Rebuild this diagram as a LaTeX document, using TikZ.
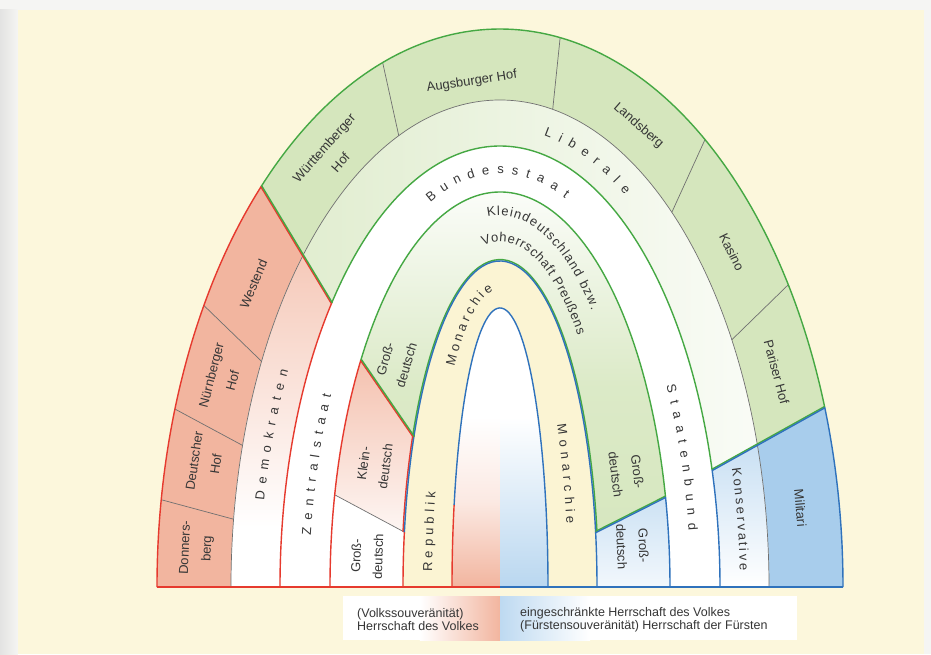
\documentclass[tikz,border=0pt]{standalone}
\usepackage{fontspec}
\setmainfont{Liberation Sans}
\usepackage{tikz}
\usetikzlibrary{calc}
\definecolor{paper}{HTML}{FCF7DC}
\definecolor{sheetedge}{HTML}{F5F5F3}
\definecolor{edgered}{HTML}{E63A2E}
\definecolor{edgegreen}{HTML}{45A843}
\definecolor{edgeblue}{HTML}{2F72BC}
\definecolor{fillred}{HTML}{F2B59F}
\definecolor{fillgreen}{HTML}{D5E6BD}
\definecolor{fillblue}{HTML}{A8CDEC}
\definecolor{fillcream}{HTML}{FBF4D3}
\definecolor{segline}{HTML}{707070}
\definecolor{labeltext}{HTML}{363636}
\newsavebox\charbox
\newcommand\lblfont{\fontsize{13}{22}\selectfont}
\newcommand\arcfont{\fontsize{13}{15}\selectfont}
\newcommand\legfont{\fontsize{12.5}{13}\selectfont}
\tikzset{
red edge/.style={draw=edgered, line width=1.4pt},
green edge/.style={draw=edgegreen, line width=1.4pt},
blue edge/.style={draw=edgeblue, line width=1.4pt},
seg line/.style={draw=segline, line width=0.7pt},
ring label/.style={font=\lblfont, text=labeltext, align=center, inner sep=0pt},
arc letter/.style={font=\arcfont, text=labeltext, anchor=base, inner sep=0pt},
legend text/.style={font=\legfont, text=labeltext, align=left, inner sep=0pt, anchor=west}
}
% half widths and heights of the arches
\def\aOut{343}\def\hOut{558}
\def\aLib{269}\def\hLib{487}
\def\aBund{220}\def\hBund{441}
\def\aDeu{170}\def\hDeu{395}
\def\aMon{97}\def\hMon{326}
\def\aCore{48}\def\hCore{279}
% closed band between two arches
\newcommand\halfring[4]{(-#1,0) arc[start angle=180,end angle=0,x radius=#1,y radius=#2] -- (#3,0) arc[start angle=0,end angle=180,x radius=#3,y radius=#4] -- cycle}
% piece of an arch between two angles
\newcommand\edgearc[5]{\draw[#1] ({#2*cos(#4)},{#3*sin(#4)}) arc[start angle=#4,end angle=#5,x radius=#2,y radius=#3];}
% one label in a band, turned along the arch
\newcommand\ringnode[5]{%
  \pgfmathsetmacro\labx{#2*cos(#4)}%
  \pgfmathsetmacro\laby{#3*sin(#4)}%
  \pgfmathsetmacro\labrot{atan2(-#3*cos(#4),#2*sin(#4))}%
  \node[ring label,rotate=\labrot] (#1) at (\labx,\laby) {#5};}
% widths of the letters, measured before the picture
\newcommand\measureletters[1]{%
  \foreach \c in {#1}{%
    \sbox\charbox{\arcfont\c}%
    \expandafter\xdef\csname cw@\detokenize\expandafter{\c}\endcsname{\the\wd\charbox}}}
% letters set one by one along an arch (name, a, h, start angle, tracking, letters)
\newcommand\arctext[6]{%
  \xdef\tcur{#4}%
  \foreach \ch [count=\idx] in {#6}{%
    \edef\chraw{\csname cw@\detokenize\expandafter{\ch}\endcsname}%
    \pgfmathsetmacro\chw{\chraw}%
    \pgfmathsetmacro\spd{100*sqrt((#2/100*sin(\tcur))^2+(#3/100*cos(\tcur))^2)}%
    \pgfmathsetmacro\tmid{\tcur-0.5*\chw*57.2958/\spd}%
    \pgfmathsetmacro\labx{#2*cos(\tmid)}%
    \pgfmathsetmacro\laby{#3*sin(\tmid)}%
    \pgfmathsetmacro\labrot{atan2(-#3*cos(\tmid),#2*sin(\tmid))}%
    \node[arc letter,rotate=\labrot] (#1-\idx) at (\labx,\laby) {\ch};
    \pgfmathsetmacro\tnext{\tcur-(\chw+#5)*57.2958/\spd}%
    \xdef\tcur{\tnext}%
  }}
\begin{document}
\measureletters{D,e,m,o,k,r,a,t,n,L,i,b,l,K,s,v,Z,B,u,d,S,R,p,M,c,h,V,f,P,ß,z,w,.,\ }%
\begin{tikzpicture}[x=1pt,y=1pt]
\useasboundingbox (-500,-67) rectangle (431,587);
% sheet
\fill[paper] (-500,-67) rectangle (431,587);
\fill[sheetedge] (-500,577) rectangle (431,587);
\shade[left color=sheetedge!85!gray, right color=sheetedge] (-500,-67) rectangle (-482,577);
\fill[sheetedge] (424,-67) rectangle (431,577);

% end points of the dividing lines
\coordinate (westTop) at ({\aOut*cos(134.1)},{\hOut*sin(134.1)});
\coordinate (westLow) at ({\aBund*cos(139.9)},{\hBund*sin(139.9)});
\coordinate (konsTop) at ({\aOut*cos(18.8)},{\hOut*sin(18.8)});
\coordinate (konsLow) at ({\aBund*cos(15.4)},{\hBund*sin(15.4)});
\coordinate (kleinTop) at ({\aDeu*cos(144.9)},{\hDeu*sin(144.9)});
\coordinate (kleinLow) at ({\aMon*cos(152.6)},{\hMon*sin(152.6)});
\coordinate (grossTop) at ({\aDeu*cos(166.5)},{\hDeu*sin(166.5)});
\coordinate (grossLow) at ({\aMon*cos(170.3)},{\hMon*sin(170.3)});
\coordinate (rgTop) at ({\aDeu*cos(13.2)},{\hDeu*sin(13.2)});
\coordinate (rgLow) at ({\aMon*cos(9.7)},{\hMon*sin(9.7)});

% outer band: clubs
\begin{scope}
\clip \halfring{\aOut}{\hOut}{\aLib}{\hLib};
\fill[fillgreen] (-350,0) rectangle (350,560);
\fill[fillred] ($(westLow)!3!(westTop)$) -- ($(westTop)!2!(westLow)$) |- (-520,-20) -- (-520,640) -- cycle;
\fill[fillblue] ($(konsLow)!3!(konsTop)$) -- ($(konsTop)!2!(konsLow)$) |- (560,-20) -- (560,320) -- cycle;
\end{scope}
% second band: parties
\begin{scope}
\clip \halfring{\aLib}{\hLib}{\aBund}{\hBund};
\shade[left color=fillgreen!80, right color=fillgreen!12] (-270,0) rectangle (270,490);
\begin{scope}
\clip ($(westLow)!3!(westTop)$) -- ($(westTop)!2!(westLow)$) |- (-520,-20) -- (-520,640) -- cycle;
\fill[white] (-300,-20) rectangle (-100,360);
\shade[top color=fillred!75, bottom color=white] (-280,60) rectangle (-140,340);
\end{scope}
\begin{scope}
\clip ($(konsLow)!3!(konsTop)$) -- ($(konsTop)!2!(konsLow)$) |- (560,-20) -- (560,320) -- cycle;
\shade[top color=fillblue!70, bottom color=white] (180,0) rectangle (290,160);
\end{scope}
\end{scope}
% third band
\fill[white] \halfring{\aBund}{\hBund}{\aDeu}{\hDeu};
% fourth band
\begin{scope}
\clip \halfring{\aDeu}{\hDeu}{\aMon}{\hMon};
\shade[bottom color=fillgreen, top color=fillgreen!8, middle color=fillgreen!85] (-180,0) rectangle (180,400);
\begin{scope}
\clip ($(kleinLow)!3!(kleinTop)$) -- ($(kleinTop)!2!(kleinLow)$) |- (-300,-20) -- (-300,400) -- cycle;
\shade[top color=fillred!85, bottom color=fillred!10] (-180,50) rectangle (-80,230);
\end{scope}
\begin{scope}
\clip ($(grossLow)!2!(grossTop)$) -- ($(grossTop)!1.5!(grossLow)$) |- (-300,-20) -- (-300,130) -- cycle;
\fill[white] (-200,-20) rectangle (-50,140);
\end{scope}
\begin{scope}
\clip ($(rgLow)!2!(rgTop)$) -- ($(rgTop)!1.5!(rgLow)$) |- (300,-20) -- (300,130) -- cycle;
\shade[top color=fillblue!75, bottom color=fillblue!15] (80,0) rectangle (180,125);
\end{scope}
\end{scope}
% fifth band
\fill[fillcream] \halfring{\aMon}{\hMon}{\aCore}{\hCore};
% core
\begin{scope}
\clip (-\aCore,0) arc[start angle=180,end angle=0,x radius=\aCore,y radius=\hCore] -- cycle;
\fill[white] (-50,0) rectangle (50,280);
\shade[top color=fillred!30, bottom color=fillred] (-50,0) rectangle (0,85);
\shade[top color=white, bottom color=fillred!30] (-50,85) rectangle (0,170);
\shade[top color=white, bottom color=fillblue!80] (0,0) rectangle (50,170);
\end{scope}

% thin lines
\draw[seg line] (-\aLib,0) arc[start angle=180,end angle=0,x radius=\aLib,y radius=\hLib];
\foreach \tout/\tin in {171/172,161.4/163.1,149.7/152.4,110/112.1,79.9/78.7,53.3/50.3,32.8/30.5}
  \draw[seg line] ({\aOut*cos(\tout)},{\hOut*sin(\tout)}) -- ({\aLib*cos(\tin)},{\hLib*sin(\tin)});
\draw[seg line] (grossTop) -- (grossLow);

% coloured arches
\edgearc{red edge}{\aOut}{\hOut}{180}{134.1}
\edgearc{green edge}{\aOut}{\hOut}{134.1}{18.8}
\edgearc{blue edge}{\aOut}{\hOut}{18.8}{0}
\edgearc{red edge}{\aBund}{\hBund}{180}{139.9}
\edgearc{green edge}{\aBund}{\hBund}{139.9}{15.4}
\edgearc{blue edge}{\aBund}{\hBund}{15.4}{0}
\edgearc{red edge}{\aDeu}{\hDeu}{180}{144.9}
\edgearc{green edge}{\aDeu}{\hDeu}{144.9}{13.2}
\edgearc{blue edge}{\aDeu}{\hDeu}{13.2}{0}
\edgearc{red edge}{\aMon}{\hMon}{180}{170.3}
\edgearc{red edge}{98.4}{327.4}{170.3}{152.6}
\edgearc{green edge}{98.4}{327.4}{152.6}{9.7}
\edgearc{blue edge}{\aMon}{\hMon}{170.3}{0}
\edgearc{red edge}{\aCore}{\hCore}{180}{162.9}
\edgearc{blue edge}{\aCore}{\hCore}{162.9}{0}
\draw[red edge] (-\aOut,0) -- (0,0);
\draw[blue edge] (0,0) -- (\aOut,0);

% dividing lines
\draw[red edge] ([shift={(-0.5,-0.3)}]westTop) -- ([shift={(-0.5,-0.3)}]westLow);
\draw[green edge] ([shift={(0.5,0.3)}]westTop) -- ([shift={(0.5,0.3)}]westLow);
\draw[green edge] ([shift={(-0.3,0.55)}]konsTop) -- ([shift={(-0.3,0.55)}]konsLow);
\draw[blue edge] ([shift={(0.3,-0.55)}]konsTop) -- ([shift={(0.3,-0.55)}]konsLow);
\draw[red edge] ([shift={(-0.5,-0.35)}]kleinTop) -- ([shift={(-0.5,-0.35)}]kleinLow);
\draw[green edge] ([shift={(0.5,0.35)}]kleinTop) -- ([shift={(0.5,0.35)}]kleinLow);
\draw[green edge] ([shift={(-0.3,0.55)}]rgTop) -- ([shift={(-0.3,0.55)}]rgLow);
\draw[blue edge] ([shift={(0.3,-0.55)}]rgTop) -- ([shift={(0.3,-0.55)}]rgLow);

% clubs
\ringnode{donnersberg}{304}{518}{175.7}{Donners-\\berg}
\ringnode{deutscherhof}{304}{518}{166.1}{Deutscher\\Hof}
\ringnode{nuernberg}{304}{518}{156.2}{Nürnberger\\Hof}
\ringnode{westend}{304}{518}{144.2}{Westend}
\ringnode{wuerttemberg}{304}{518}{123.5}{Württemberger\\Hof}
\ringnode{augsburg}{304}{507.5}{95.3}{Augsburger Hof}
\ringnode{landsberg}{304}{518}{62.9}{Landsberg}
\ringnode{kasino}{304}{518}{40.3}{Kasino}
\ringnode{pariserhof}{304}{518}{24.5}{Pariser Hof}
\ringnode{militari}{304}{518}{8.8}{Militari}
% fourth band
\ringnode{grossoben}{133.5}{360.5}{141.4}{Groß-\\deutsch}
\ringnode{kleindt}{133.5}{360.5}{160.2}{Klein-\\deutsch}
\ringnode{grossunten}{133.5}{360.5}{175.1}{Groß-\\deutsch}
\ringnode{grossrechts}{133.5}{360.5}{18.4}{Groß-\\deutsch}
\ringnode{grossblau}{133.5}{360.5}{6.5}{Groß-\\deutsch}
% spaced words along the arches
\arctext{demokraten}{240}{459.5}{169.2}{6.9}{D,e,m,o,k,r,a,t,e,n}
\arctext{liberale}{240}{459.5}{79.5}{7.7}{L,i,b,e,r,a,l,e}
\arctext{konservative}{240}{459.5}{15.0}{2.5}{K,o,n,s,e,r,v,a,t,i,v,e}
\arctext{zentralstaat}{190.5}{413.5}{172.8}{6.7}{Z,e,n,t,r,a,l,s,t,a,a,t}
\arctext{bundesstaat}{190.5}{413.5}{111.4}{7.6}{B,u,n,d,e,s,s,t,a,a,t}
\arctext{staatenbund}{190.5}{413.5}{29.1}{7.2}{S,t,a,a,t,e,n,b,u,n,d}
\arctext{republik}{68}{298}{177.1}{4.2}{R,e,p,u,b,l,i,k}
\arctext{monarchieoben}{68}{298}{132.2}{3.9}{M,o,n,a,r,c,h,i,e}
\arctext{monarchierechts}{68}{298}{33.0}{4.8}{M,o,n,a,r,c,h,i,e}
\arctext{kleindeutschland}{137.5}{371.5}{95.1}{1.0}{K,l,e,i,n,d,e,u,t,s,c,h,l,a,n,d,\ ,b,z,w,.}
\arctext{vorherrschaft}{113.5}{345.5}{98.5}{0.5}{V,o,h,e,r,r,s,c,h,a,f,t,\ ,P,r,e,u,ß,e,n,s}

% legend
\fill[white] (-157,-53) rectangle (297,-9);
\shade[left color=white, right color=fillred] (-80,-53) rectangle (0,-9);
\shade[left color=fillblue!75, right color=white] (0,-53) rectangle (90,-9);
\node[legend text] (legvolk) at (-143,-32.5) {(Volkssouveränität)\\Herrschaft des Volkes};
\node[legend text] (legfuerst) at (20,-32.5) {eingeschränkte Herrschaft des Volkes\\(Fürstensouveränität) Herrschaft der Fürsten};
\end{tikzpicture}
\end{document}
